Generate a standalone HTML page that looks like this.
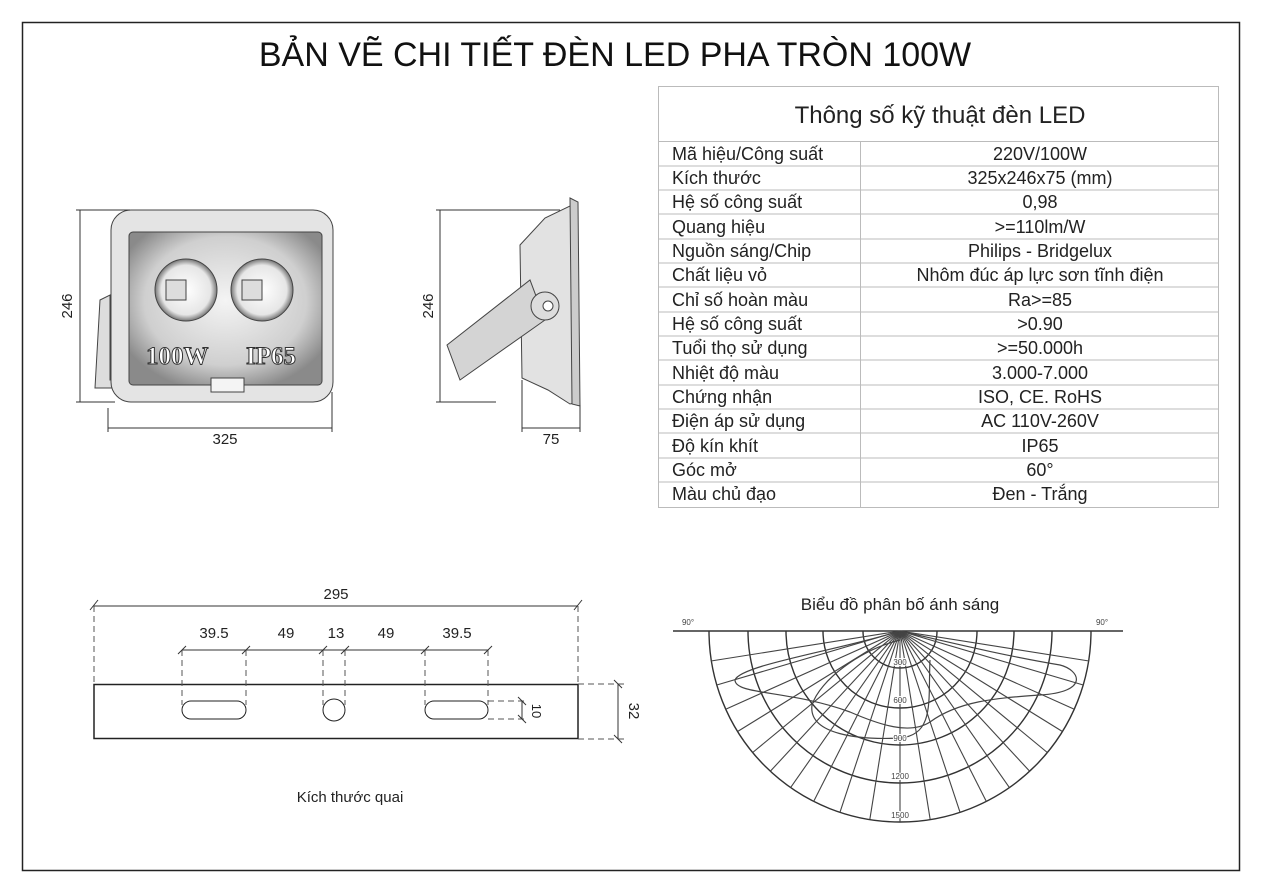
<!DOCTYPE html>
<html><head><meta charset="utf-8"><style>
body{margin:0;background:#fff;}
svg{display:block;font-family:"Liberation Sans",sans-serif;}
</style></head><body>
<svg width="1262" height="892" viewBox="0 0 1262 892">
<defs>
<radialGradient id="pg" cx="50%" cy="45%" r="60%"><stop offset="0" stop-color="#f4f4f4"/><stop offset="0.7" stop-color="#cfcfcf"/><stop offset="1" stop-color="#8a8a8a"/></radialGradient>
<radialGradient id="lg" cx="50%" cy="50%" r="50%"><stop offset="0" stop-color="#fff"/><stop offset="0.8" stop-color="#e6e6e6"/><stop offset="1" stop-color="#777"/></radialGradient>
</defs>
<rect x="22.5" y="22.5" width="1217" height="848" fill="none" stroke="#222" stroke-width="1.5"/>
<text x="615" y="66" font-size="34" text-anchor="middle" fill="#111">BẢN VẼ CHI TIẾT ĐÈN LED PHA TRÒN 100W</text>

<!-- table -->
<g stroke="#bbb" stroke-width="1" fill="none">
<rect x="658.5" y="86.5" width="560" height="421"/>
<line x1="658" y1="141.5" x2="1218" y2="141.5"/>
<line x1="860.5" y1="142" x2="860.5" y2="507"/>
</g>
<text x="940" y="123" font-size="24" text-anchor="middle" fill="#222">Thông số kỹ thuật đèn LED</text>
<g font-size="18" fill="#222" id="rows"></g>
<g stroke="#bbb" stroke-width="1">
<line x1="658" y1="166" x2="1218" y2="166"/><line x1="658" y1="190" x2="1218" y2="190"/><line x1="658" y1="214" x2="1218" y2="214"/><line x1="658" y1="239" x2="1218" y2="239"/><line x1="658" y1="263" x2="1218" y2="263"/><line x1="658" y1="287" x2="1218" y2="287"/><line x1="658" y1="312" x2="1218" y2="312"/><line x1="658" y1="336" x2="1218" y2="336"/><line x1="658" y1="360" x2="1218" y2="360"/><line x1="658" y1="385" x2="1218" y2="385"/><line x1="658" y1="409" x2="1218" y2="409"/><line x1="658" y1="433" x2="1218" y2="433"/><line x1="658" y1="458" x2="1218" y2="458"/><line x1="658" y1="482" x2="1218" y2="482"/>
</g>
<g font-size="18" fill="#222">
<text x="672" y="160">Mã hiệu/Công suất</text><text x="1040" y="160" text-anchor="middle">220V/100W</text>
<text x="672" y="184">Kích thước</text><text x="1040" y="184" text-anchor="middle">325x246x75 (mm)</text>
<text x="672" y="208">Hệ số công suất</text><text x="1040" y="208" text-anchor="middle">0,98</text>
<text x="672" y="233">Quang hiệu</text><text x="1040" y="233" text-anchor="middle">&gt;=110lm/W</text>
<text x="672" y="257">Nguồn sáng/Chip</text><text x="1040" y="257" text-anchor="middle">Philips - Bridgelux</text>
<text x="672" y="281">Chất liệu vỏ</text><text x="1040" y="281" text-anchor="middle">Nhôm đúc áp lực sơn tĩnh điện</text>
<text x="672" y="306">Chỉ số hoàn màu</text><text x="1040" y="306" text-anchor="middle">Ra&gt;=85</text>
<text x="672" y="330">Hệ số công suất</text><text x="1040" y="330" text-anchor="middle">&gt;0.90</text>
<text x="672" y="354">Tuổi thọ sử dụng</text><text x="1040" y="354" text-anchor="middle">&gt;=50.000h</text>
<text x="672" y="379">Nhiệt độ màu</text><text x="1040" y="379" text-anchor="middle">3.000-7.000</text>
<text x="672" y="403">Chứng nhận</text><text x="1040" y="403" text-anchor="middle">ISO, CE. RoHS</text>
<text x="672" y="427">Điện áp sử dụng</text><text x="1040" y="427" text-anchor="middle">AC 110V-260V</text>
<text x="672" y="452">Độ kín khít</text><text x="1040" y="452" text-anchor="middle">IP65</text>
<text x="672" y="476">Góc mở</text><text x="1040" y="476" text-anchor="middle">60°</text>
<text x="672" y="500">Màu chủ đạo</text><text x="1040" y="500" text-anchor="middle">Đen - Trắng</text>
</g>

<!-- front lamp -->
<g stroke="#444" stroke-width="1">
<polygon points="100,300 110,295 110,380 122,380 122,388 95,388" fill="#ddd"/>
<rect x="111" y="210" width="222" height="192" rx="20" fill="#e4e4e4"/>
<rect x="129" y="232" width="193" height="153" rx="4" fill="url(#pg)"/>
<circle cx="186" cy="290" r="31" fill="url(#lg)"/>
<circle cx="262" cy="290" r="31" fill="url(#lg)"/>
<rect x="166" y="280" width="20" height="20" fill="#ddd"/>
<rect x="242" y="280" width="20" height="20" fill="#ddd"/>
<rect x="211" y="378" width="33" height="14" fill="#f4f4f4"/>
</g>
<g font-family="Liberation Serif,serif" font-weight="bold" font-size="25" fill="#fff" stroke="#333" stroke-width="1">
<text x="146" y="364">100W</text><text x="246" y="364">IP65</text></g>

<!-- side lamp -->
<g stroke="#444" stroke-width="1">
<polygon points="520,245 545,218 572,205 578,208 578,402 570,404 548,390 522,378" fill="#e2e2e2"/>
<polygon points="570,198 578,202 580,406 572,404" fill="#ccc"/>
<polygon points="447,345 530,280 545,320 460,380" fill="#d4d4d4"/>
<circle cx="545" cy="306" r="14" fill="#ddd"/>
<circle cx="548" cy="306" r="5" fill="#fff"/>
</g>

<!-- dims for lamp -->
<g stroke="#333" stroke-width="1" fill="none">
<line x1="80" y1="210" x2="80" y2="402"/><line x1="76" y1="210" x2="130" y2="210"/><line x1="76" y1="402" x2="115" y2="402"/>
<line x1="108" y1="428" x2="332" y2="428"/><line x1="108" y1="408" x2="108" y2="432"/><line x1="332" y1="392" x2="332" y2="432"/>
<line x1="440" y1="210" x2="440" y2="402"/><line x1="436" y1="210" x2="560" y2="210"/><line x1="436" y1="402" x2="496" y2="402"/>
<line x1="522" y1="428" x2="580" y2="428"/><line x1="522" y1="380" x2="522" y2="432"/><line x1="580" y1="405" x2="580" y2="432"/>
</g>
<g font-size="15" fill="#222">
<text x="225" y="444" text-anchor="middle">325</text><text x="551" y="444" text-anchor="middle">75</text>
<text transform="translate(72,306) rotate(-90)" text-anchor="middle">246</text>
<text transform="translate(433,306) rotate(-90)" text-anchor="middle">246</text>
</g>

<!-- bracket strip -->
<g stroke="#222" fill="none">
<rect x="94" y="684.5" width="484" height="54" stroke-width="1.5"/>
<rect x="182" y="701" width="64" height="18" rx="9"/>
<rect x="425" y="701" width="63" height="18" rx="9"/>
<ellipse cx="334" cy="710" rx="11" ry="11"/>
</g>
<g stroke="#555" stroke-width="1" stroke-dasharray="6,4" fill="none">
<line x1="94" y1="606" x2="94" y2="684"/><line x1="578" y1="606" x2="578" y2="684"/>
<line x1="182" y1="650" x2="182" y2="705"/><line x1="246" y1="650" x2="246" y2="705"/>
<line x1="323" y1="650" x2="323" y2="705"/><line x1="345" y1="650" x2="345" y2="705"/>
<line x1="425" y1="650" x2="425" y2="705"/><line x1="488" y1="650" x2="488" y2="705"/>
<line x1="578" y1="684" x2="625" y2="684"/><line x1="578" y1="739" x2="625" y2="739"/>
<line x1="488" y1="701" x2="525" y2="701"/><line x1="488" y1="719" x2="525" y2="719"/>
</g>
<g stroke="#333" stroke-width="1">
<line x1="94" y1="606" x2="578" y2="606"/><line x1="90" y1="610" x2="98" y2="600"/><line x1="574" y1="610" x2="582" y2="600"/>
<line x1="182" y1="650" x2="488" y2="650"/>
<line x1="178" y1="654" x2="186" y2="646"/><line x1="242" y1="654" x2="250" y2="646"/><line x1="319" y1="654" x2="327" y2="646"/><line x1="341" y1="654" x2="349" y2="646"/><line x1="421" y1="654" x2="429" y2="646"/><line x1="484" y1="654" x2="492" y2="646"/>
<line x1="618" y1="684" x2="618" y2="739"/><line x1="614" y1="680" x2="622" y2="688"/><line x1="614" y1="735" x2="622" y2="743"/>
<line x1="522" y1="701" x2="522" y2="719"/><line x1="518" y1="697" x2="526" y2="705"/><line x1="518" y1="715" x2="526" y2="723"/>
</g>
<g font-size="15" fill="#222">
<text x="336" y="599" text-anchor="middle">295</text>
<text x="214" y="638" text-anchor="middle">39.5</text><text x="286" y="638" text-anchor="middle">49</text>
<text x="336" y="638" text-anchor="middle">13</text><text x="386" y="638" text-anchor="middle">49</text>
<text x="457" y="638" text-anchor="middle">39.5</text>
<text transform="translate(629,711) rotate(90)" text-anchor="middle">32</text>
<text transform="translate(532,711) rotate(90)" text-anchor="middle" font-size="13">10</text>
<text x="350" y="802" text-anchor="middle">Kích thước quai</text>
<text x="900" y="610" text-anchor="middle" font-size="17">Biểu đồ phân bố ánh sáng</text>
</g>

<!-- polar chart -->
<g stroke="#333" stroke-width="1.4" fill="none">
<line x1="673" y1="631" x2="1123" y2="631"/>
<path d="M863,631 A37,37 0 0 0 937,631"/>
<path d="M823,631 A77,77 0 0 0 977,631"/>
<path d="M786,631 A114,114 0 0 0 1014,631"/>
<path d="M748,631 A152,152 0 0 0 1052,631"/>
<path d="M709,631 A191,191 0 0 0 1091,631"/>
</g>
<g stroke="#444" stroke-width="1.1" id="rad">
<line x1="900" y1="631" x2="711.0" y2="661.0"/><line x1="900" y1="631" x2="1089.0" y2="661.0"/>
<line x1="900" y1="631" x2="716.8" y2="685.0"/><line x1="900" y1="631" x2="1083.2" y2="685.0"/>
<line x1="900" y1="631" x2="725.7" y2="709.2"/><line x1="900" y1="631" x2="1074.3" y2="709.2"/>
<line x1="900" y1="631" x2="737.8" y2="731.4"/><line x1="900" y1="631" x2="1062.2" y2="731.4"/>
<line x1="900" y1="631" x2="752.7" y2="752.5"/><line x1="900" y1="631" x2="1047.3" y2="752.5"/>
<line x1="900" y1="631" x2="770.3" y2="771.3"/><line x1="900" y1="631" x2="1029.7" y2="771.3"/>
<line x1="900" y1="631" x2="790.6" y2="787.6"/><line x1="900" y1="631" x2="1009.4" y2="787.6"/>
<line x1="900" y1="631" x2="813.7" y2="801.4"/><line x1="900" y1="631" x2="986.3" y2="801.4"/>
<line x1="900" y1="631" x2="840.0" y2="812.2"/><line x1="900" y1="631" x2="960.0" y2="812.2"/>
<line x1="900" y1="631" x2="869.9" y2="819.0"/><line x1="900" y1="631" x2="930.1" y2="819.0"/>
<line x1="900" y1="631" x2="900" y2="822"/>
</g>
<g stroke="#444" stroke-width="1.2" fill="none">
<path d="M900,631 C840,650 740,665 735,680 C735,695 790,690 850,712 C880,725 910,735 930,722 C960,700 1000,698 1040,695 C1090,692 1080,670 1060,665 C1000,655 940,640 900,631"/>
<path d="M900,640 C860,650 820,680 812,705 C808,735 860,740 900,738 C935,735 928,700 930,660"/>
</g>
<g font-size="8" fill="#444" stroke="#fff" stroke-width="2" paint-order="stroke" text-anchor="middle">
<text x="900" y="665">300</text><text x="900" y="703">600</text><text x="900" y="741">900</text><text x="900" y="779">1200</text><text x="900" y="818">1500</text>
<text x="688" y="625">90°</text><text x="1102" y="625">90°</text>
</g>
</svg>
</body></html>
